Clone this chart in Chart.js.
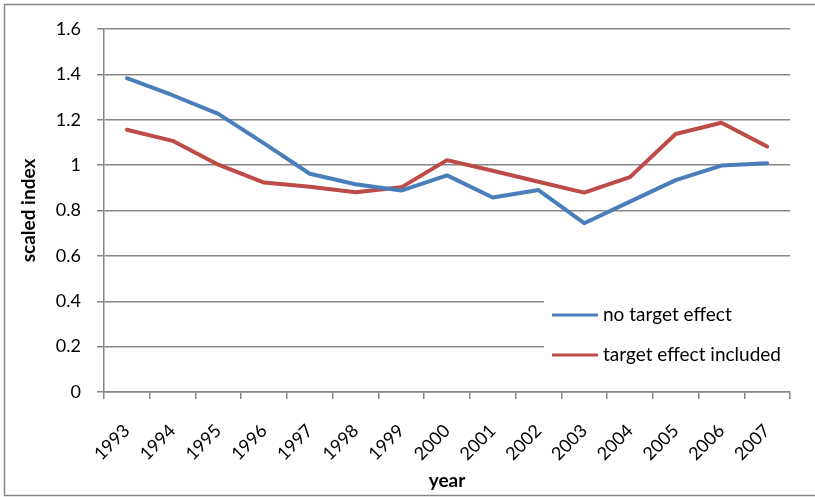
<!DOCTYPE html>
<html>
<head>
<meta charset="utf-8">
<title>scaled index by year</title>
<script src="https://cdn.jsdelivr.net/npm/chart.js@4"></script>
<style>
  html, body { margin: 0; padding: 0; background: #ffffff; }
  #wrap { width: 815px; height: 497px; position: relative; }
</style>
</head>
<body>
<div id="wrap"><canvas id="chart" width="815" height="497"></canvas></div>
<script>
// Years on the category axis
const years = ['1993','1994','1995','1996','1997','1998','1999','2000',
               '2001','2002','2003','2004','2005','2006','2007'];

// Series values
const noTargetEffect = [1.383, 1.308, 1.226, 1.096, 0.962, 0.916, 0.888, 0.955,
                        0.857, 0.890, 0.744, 0.839, 0.934, 0.998, 1.008];
const targetEffectIncluded = [1.156, 1.107, 1.002, 0.923, 0.905, 0.880, 0.902, 1.022,
                              0.975, 0.927, 0.879, 0.947, 1.137, 1.187, 1.082];

// Series names and value-axis ticks
const seriesNames = ['no target effect', 'target effect included'];
const yTicks = [0, 0.2, 0.4, 0.6, 0.8, 1, 1.2, 1.4, 1.6];

const FONT = 'Lato, "Open Sans", sans-serif';
const AXIS_GREY = '#868686';
const BLUE = '#4a7ebb';
const RED = '#be4b48';

// Outer frame around the whole chart
const framePlugin = {
  id: 'frame',
  beforeDraw(chart) {
    const ctx = chart.ctx;
    ctx.save();
    ctx.fillStyle = '#ffffff';
    ctx.fillRect(0, 0, chart.width, chart.height);
    ctx.strokeStyle = AXIS_GREY;
    ctx.lineWidth = 1.5;
    ctx.strokeRect(4.5, 4.5, chart.width + 10, chart.height - 6);
    ctx.restore();
  }
};

// Legend boxed inside the lower right of the plot area
const insideLegend = {
  id: 'insideLegend',
  afterDatasetsDraw(chart) {
    const ctx = chart.ctx;
    const area = chart.chartArea;
    const x0 = area.right - 246;
    const y0 = area.bottom - 99;
    ctx.save();
    ctx.fillStyle = '#ffffff';
    ctx.fillRect(x0, y0, area.right - x0 + 30, 82);
    ctx.font = '19px ' + FONT;
    ctx.textBaseline = 'middle';
    ctx.textAlign = 'left';
    chart.data.datasets.forEach((ds, i) => {
      const y = y0 + 22 + i * 40;
      ctx.strokeStyle = ds.borderColor;
      ctx.lineWidth = 3;
      ctx.beginPath();
      ctx.moveTo(x0 + 8, y);
      ctx.lineTo(x0 + 54, y);
      ctx.stroke();
      ctx.fillStyle = '#000000';
      ctx.fillText(ds.label, x0 + 59, y);
    });
    ctx.restore();
  }
};

new Chart(document.getElementById('chart'), {
  type: 'line',
  data: {
    labels: years,
    datasets: [
      {
        label: seriesNames[0],
        data: noTargetEffect,
        borderColor: BLUE,
        backgroundColor: BLUE,
        borderWidth: 4,
        pointRadius: 0,
        tension: 0,
        borderJoinStyle: 'round',
        borderCapStyle: 'round'
      },
      {
        label: seriesNames[1],
        data: targetEffectIncluded,
        borderColor: RED,
        backgroundColor: RED,
        borderWidth: 4,
        pointRadius: 0,
        tension: 0,
        borderJoinStyle: 'round',
        borderCapStyle: 'round'
      }
    ]
  },
  options: {
    responsive: false,
    animation: false,
    devicePixelRatio: 1,
    layout: { padding: { left: 14, top: 29, right: 25, bottom: 5 } },
    plugins: {
      legend: { display: false },
      tooltip: { enabled: false }
    },
    scales: {
      x: {
        type: 'category',
        offset: true,
        grid: {
          offset: true,
          drawOnChartArea: false,
          drawTicks: true,
          tickLength: 7,
          color: AXIS_GREY,
          lineWidth: 1.5
        },
        border: { display: true, color: AXIS_GREY, width: 1.5 },
        ticks: {
          color: '#000000',
          font: { family: FONT, size: 18 },
          minRotation: 45,
          maxRotation: 45,
          autoSkip: false,
          padding: 21
        },
        title: {
          display: true,
          text: 'year',
          color: '#000000',
          font: { family: FONT, size: 19, weight: 'bold' },
          padding: { top: 2, bottom: 0 }
        },
        afterFit(scale) { scale.height = 100; }
      },
      y: {
        min: 0,
        max: 1.6,
        afterBuildTicks(scale) { scale.ticks = yTicks.map(v => ({ value: v })); },
        grid: {
          drawOnChartArea: true,
          drawTicks: true,
          tickLength: 7,
          color: AXIS_GREY,
          lineWidth: 1.5
        },
        border: { display: true, color: AXIS_GREY, width: 1.5 },
        ticks: {
          color: '#000000',
          font: { family: FONT, size: 18 },
          padding: 16,
          callback: v => String(+(+v).toFixed(1))
        },
        title: {
          display: true,
          text: 'scaled index',
          color: '#000000',
          font: { family: FONT, size: 19, weight: 'bold' },
          padding: { top: 3, bottom: 0 }
        },
        afterFit(scale) { scale.width = 90; }
      }
    }
  },
  plugins: [framePlugin, insideLegend]
});
</script>
</body>
</html>
